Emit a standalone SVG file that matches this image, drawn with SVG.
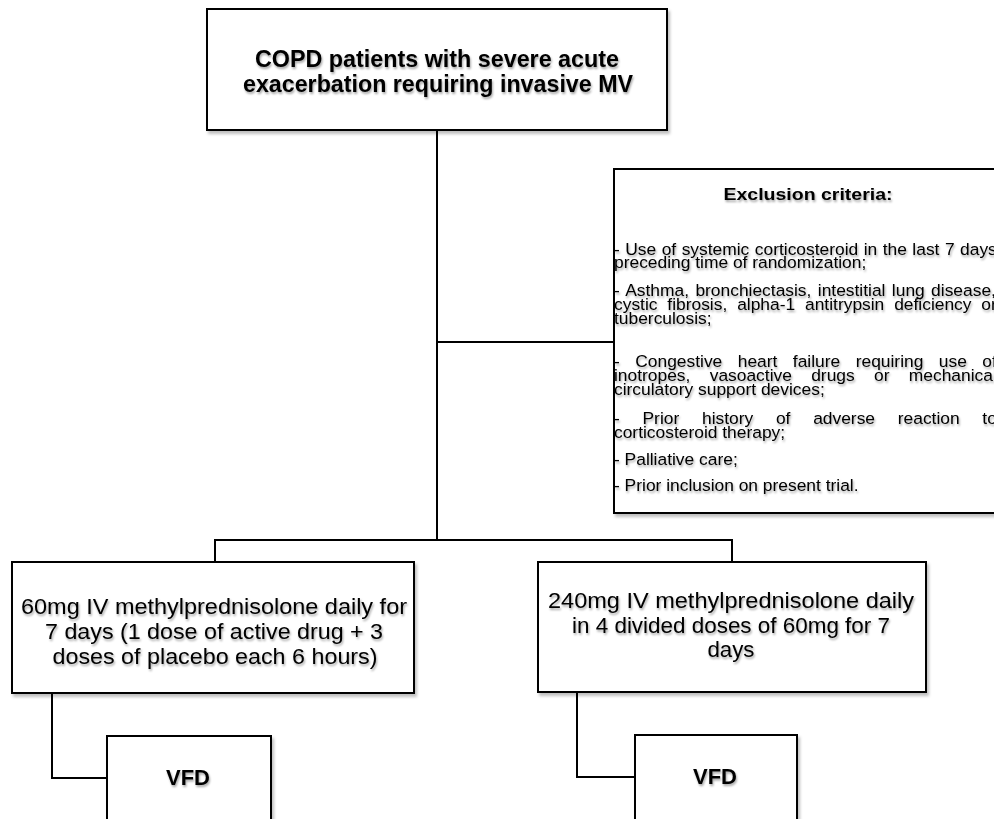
<svg xmlns="http://www.w3.org/2000/svg" width="994" height="819" viewBox="0 0 994 819">
<defs>
<filter id="ts" x="-10%" y="-30%" width="120%" height="160%">
<feGaussianBlur in="SourceAlpha" stdDeviation="1.3"/>
<feOffset dx="1" dy="2" result="b"/>
<feFlood flood-color="#000" flood-opacity="0.35"/>
<feComposite in2="b" operator="in"/>
<feMerge><feMergeNode/><feMergeNode in="SourceGraphic"/></feMerge>
</filter>
<filter id="bs" x="-5%" y="-5%" width="115%" height="115%">
<feGaussianBlur in="SourceAlpha" stdDeviation="1.5"/>
<feOffset dx="2" dy="3" result="b"/>
<feFlood flood-color="#000" flood-opacity="0.25"/>
<feComposite in2="b" operator="in"/>
<feMerge><feMergeNode/><feMergeNode in="SourceGraphic"/></feMerge>
</filter>
</defs>
<style>
.box{fill:#fff;stroke:#000;stroke-width:2}
.ln{fill:none;stroke:#000;stroke-width:2}
text{font-family:"Liberation Sans",Arial,sans-serif;fill:#000}
.t{font-weight:bold;font-size:24px;text-anchor:middle}
.b{font-size:22.5px;text-anchor:middle}
.e{font-size:17.4px}
.eh{font-weight:bold;font-size:17px;text-anchor:middle}
.v{font-weight:bold;font-size:22px;text-anchor:middle}
</style>
<g id="connectors">
<path class="ln" d="M437,130 V540"/>
<path class="ln" d="M437,342 H614"/>
<path class="ln" d="M215,562 V540 H732 V562"/>
<path class="ln" d="M52,693 V778 H107"/>
<path class="ln" d="M577,692 V777 H635"/>
</g>
<g id="copd">
<rect class="box" x="207" y="9" width="460" height="121" filter="url(#bs)"/>
<g filter="url(#ts)">
<text class="t" x="437" y="67" textLength="364" lengthAdjust="spacingAndGlyphs">COPD patients with severe acute</text>
<text class="t" x="438" y="92" textLength="390" lengthAdjust="spacingAndGlyphs">exacerbation requiring invasive MV</text>
</g>
</g>
<g id="exclusion">
<rect class="box" x="614" y="169" width="390" height="344" filter="url(#bs)"/>
<g filter="url(#ts)">
<text class="eh" x="808" y="200" textLength="169" lengthAdjust="spacingAndGlyphs">Exclusion criteria:</text>
<text class="e" x="614" y="255" style="word-spacing:0.65px">- Use of systemic corticosteroid in the last 7 days</text>
<text class="e" x="614" y="268">preceding time of randomization;</text>
<text class="e" x="614" y="296" style="word-spacing:1.56px">- Asthma, bronchiectasis, intestitial lung disease,</text>
<text class="e" x="614" y="310" style="word-spacing:5.04px">cystic fibrosis, alpha-1 antitrypsin deficiency or</text>
<text class="e" x="614" y="324">tuberculosis;</text>
<text class="e" x="614" y="367" style="word-spacing:10.64px">- Congestive heart failure requiring use of</text>
<text class="e" x="614" y="381" style="word-spacing:14.5px">inotropes, vasoactive drugs or mechanical</text>
<text class="e" x="614" y="395">circulatory support devices;</text>
<text class="e" x="614" y="424" style="word-spacing:17.9px">- Prior history of adverse reaction to</text>
<text class="e" x="614" y="438">corticosteroid therapy;</text>
<text class="e" x="614" y="465">- Palliative care;</text>
<text class="e" x="614" y="491">- Prior inclusion on present trial.</text>
</g>
</g>
<g id="arm60">
<rect class="box" x="12" y="562" width="402" height="131" filter="url(#bs)"/>
<g filter="url(#ts)">
<text class="b" x="214" y="614" textLength="386" lengthAdjust="spacingAndGlyphs">60mg IV  methylprednisolone daily for</text>
<text class="b" x="214" y="639" textLength="338" lengthAdjust="spacingAndGlyphs">7 days (1 dose of active drug + 3</text>
<text class="b" x="215" y="664" textLength="325" lengthAdjust="spacingAndGlyphs">doses of placebo each 6 hours)</text>
</g>
</g>
<g id="arm240">
<rect class="box" x="538" y="562" width="388" height="130" filter="url(#bs)"/>
<g filter="url(#ts)">
<text class="b" x="731" y="608" textLength="366" lengthAdjust="spacingAndGlyphs">240mg IV  methylprednisolone daily</text>
<text class="b" x="731" y="633" textLength="318" lengthAdjust="spacingAndGlyphs">in 4 divided doses of 60mg for 7</text>
<text class="b" x="731" y="657" textLength="47" lengthAdjust="spacingAndGlyphs">days</text>
</g>
</g>
<g id="vfd60">
<rect class="box" x="107" y="736" width="164" height="95" filter="url(#bs)"/>
<text class="v" x="188" y="785" filter="url(#ts)">VFD</text>
</g>
<g id="vfd240">
<rect class="box" x="635" y="735" width="162" height="95" filter="url(#bs)"/>
<text class="v" x="715" y="784" filter="url(#ts)">VFD</text>
</g>
</svg>
